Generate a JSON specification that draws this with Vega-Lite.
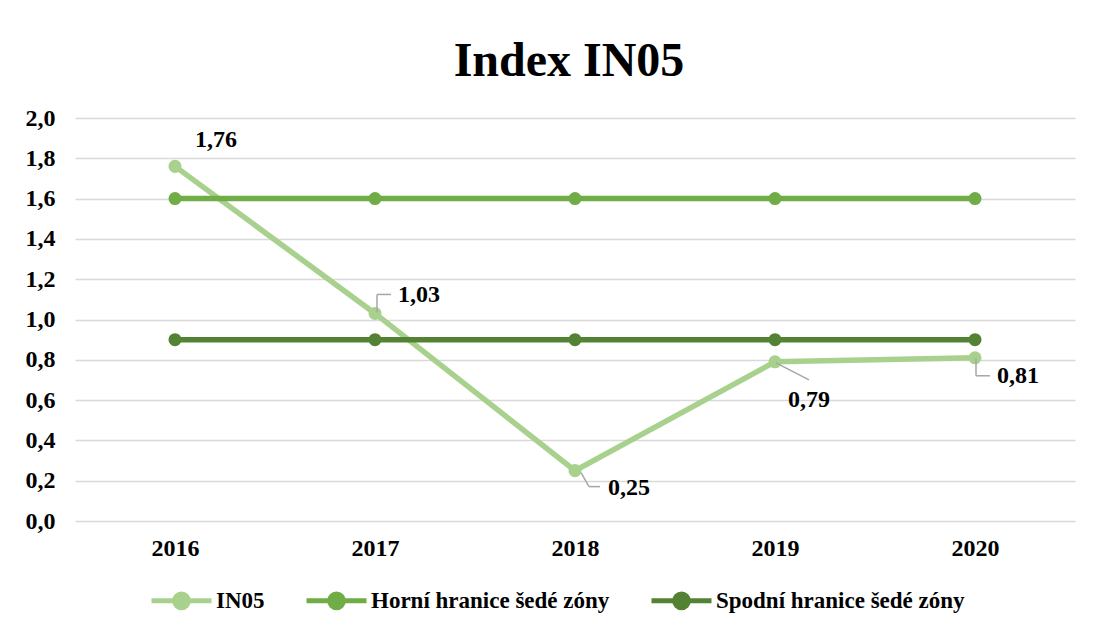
{
  "$schema": "https://vega.github.io/schema/vega-lite/v6.json",
  "width": 1000,
  "height": 403,
  "autosize": {"type": "none"},
  "padding": {"left": 75, "top": 118, "right": 19, "bottom": 109},
  "background": "white",
  "config": {
    "locale": {"number": {"decimal": ",", "thousands": " ", "grouping": [3], "currency": ["", " Kč"]}},
    "view": {"stroke": null},
    "font": "Liberation Serif"
  },
  "title": {"text": "Index IN05", "font": "Liberation Serif", "fontSize": 48, "fontWeight": "bold", "color": "black", "anchor": "middle", "offset": 20, "dx": -6},
  "data": {
    "values": [
      {"year": "2016", "series": "IN05", "value": 1.76},
      {"year": "2017", "series": "IN05", "value": 1.03},
      {"year": "2018", "series": "IN05", "value": 0.25},
      {"year": "2019", "series": "IN05", "value": 0.79},
      {"year": "2020", "series": "IN05", "value": 0.81},
      {"year": "2016", "series": "Horní hranice šedé zóny", "value": 1.6},
      {"year": "2017", "series": "Horní hranice šedé zóny", "value": 1.6},
      {"year": "2018", "series": "Horní hranice šedé zóny", "value": 1.6},
      {"year": "2019", "series": "Horní hranice šedé zóny", "value": 1.6},
      {"year": "2020", "series": "Horní hranice šedé zóny", "value": 1.6},
      {"year": "2016", "series": "Spodní hranice šedé zóny", "value": 0.9},
      {"year": "2017", "series": "Spodní hranice šedé zóny", "value": 0.9},
      {"year": "2018", "series": "Spodní hranice šedé zóny", "value": 0.9},
      {"year": "2019", "series": "Spodní hranice šedé zóny", "value": 0.9},
      {"year": "2020", "series": "Spodní hranice šedé zóny", "value": 0.9}
    ]
  },
  "encoding": {
    "x": {
      "field": "year", "type": "ordinal",
      "scale": {"type": "point", "padding": 0.5},
      "axis": {"title": null, "labelAngle": 0, "labelFont": "Liberation Serif", "labelFontSize": 24, "labelFontWeight": "bold", "labelColor": "black", "ticks": false, "domain": false, "labelPadding": 15, "grid": false}
    },
    "y": {
      "field": "value", "type": "quantitative",
      "scale": {"domain": [0, 2]},
      "axis": {"title": null, "values": [0, 0.2, 0.4, 0.6, 0.8, 1.0, 1.2, 1.4, 1.6, 1.8, 2.0], "format": ".1f", "labelFont": "Liberation Serif", "labelFontSize": 24, "labelFontWeight": "bold", "labelColor": "black", "ticks": false, "domain": false, "labelPadding": 20, "grid": true, "gridColor": "#d9d9d9", "gridWidth": 1.5}
    }
  },
  "layer": [
    {
      "mark": {"type": "line", "strokeWidth": 5.5, "point": {"filled": true, "size": 170, "opacity": 1}},
      "encoding": {
        "color": {
          "field": "series", "type": "nominal",
          "scale": {"domain": ["IN05", "Horní hranice šedé zóny", "Spodní hranice šedé zóny"], "range": ["#a9d18e", "#70ad47", "#548235"]},
          "legend": {
            "title": null, "orient": "none", "legendX": 74, "legendY": 450, "direction": "horizontal",
            "symbolType": "M-1,0L1,0M-0.23,0A0.23,0.23,0,1,1,0.23,0A0.23,0.23,0,1,1,-0.23,0Z",
            "symbolSize": 3600, "symbolStrokeWidth": 5,
            "labelFont": "Liberation Serif", "labelFontSize": 23, "labelFontWeight": "bold", "labelColor": "black",
            "labelOffset": 2, "columnPadding": 31, "labelLimit": 0,
            "encode": {"symbols": {"update": {"fill": {"scale": "color", "field": "value"}, "stroke": {"scale": "color", "field": "value"}, "opacity": {"value": 1}}}}
          }
        },
        "order": {"field": "series", "type": "nominal"}
      }
    },
    {
      "transform": [{"filter": "datum.series == 'IN05' && datum.year == '2016'"}],
      "mark": {"type": "text", "dx": 41, "dy": -26, "align": "center", "baseline": "middle", "font": "Liberation Serif", "fontSize": 24, "fontWeight": "bold", "color": "black"},
      "encoding": {"text": {"field": "value", "type": "quantitative", "format": ".2f"}}
    },
    {
      "transform": [{"filter": "datum.series == 'IN05' && datum.year == '2017'"}],
      "mark": {"type": "rule", "color": "#a6a6a6", "strokeWidth": 1.5, "xOffset": 2, "yOffset": -1, "x2Offset": 2, "y2Offset": -19},
      "encoding": {"x2": {"field": "year"}, "y2": {"field": "value"}}
    },
    {
      "transform": [{"filter": "datum.series == 'IN05' && datum.year == '2017'"}],
      "mark": {"type": "rule", "color": "#a6a6a6", "strokeWidth": 1.5, "xOffset": 2, "yOffset": -19, "x2Offset": 16, "y2Offset": -19},
      "encoding": {"x2": {"field": "year"}, "y2": {"field": "value"}}
    },
    {
      "transform": [{"filter": "datum.series == 'IN05' && datum.year == '2017'"}],
      "mark": {"type": "text", "dx": 23, "dy": -18, "align": "left", "baseline": "middle", "font": "Liberation Serif", "fontSize": 24, "fontWeight": "bold", "color": "black"},
      "encoding": {"text": {"field": "value", "type": "quantitative", "format": ".2f"}}
    },
    {
      "transform": [{"filter": "datum.series == 'IN05' && datum.year == '2018'"}],
      "mark": {"type": "rule", "color": "#a6a6a6", "strokeWidth": 1.5, "xOffset": 6, "yOffset": 2, "x2Offset": 14, "y2Offset": 16},
      "encoding": {"x2": {"field": "year"}, "y2": {"field": "value"}}
    },
    {
      "transform": [{"filter": "datum.series == 'IN05' && datum.year == '2018'"}],
      "mark": {"type": "rule", "color": "#a6a6a6", "strokeWidth": 1.5, "xOffset": 14, "yOffset": 16, "x2Offset": 25, "y2Offset": 16},
      "encoding": {"x2": {"field": "year"}, "y2": {"field": "value"}}
    },
    {
      "transform": [{"filter": "datum.series == 'IN05' && datum.year == '2018'"}],
      "mark": {"type": "text", "dx": 33, "dy": 17, "align": "left", "baseline": "middle", "font": "Liberation Serif", "fontSize": 24, "fontWeight": "bold", "color": "black"},
      "encoding": {"text": {"field": "value", "type": "quantitative", "format": ".2f"}}
    },
    {
      "transform": [{"filter": "datum.series == 'IN05' && datum.year == '2019'"}],
      "mark": {"type": "rule", "color": "#a6a6a6", "strokeWidth": 1.5, "xOffset": 1, "yOffset": 1, "x2Offset": 34, "y2Offset": 18},
      "encoding": {"x2": {"field": "year"}, "y2": {"field": "value"}}
    },
    {
      "transform": [{"filter": "datum.series == 'IN05' && datum.year == '2019'"}],
      "mark": {"type": "text", "dx": 34, "dy": 38, "align": "center", "baseline": "middle", "font": "Liberation Serif", "fontSize": 24, "fontWeight": "bold", "color": "black"},
      "encoding": {"text": {"field": "value", "type": "quantitative", "format": ".2f"}}
    },
    {
      "transform": [{"filter": "datum.series == 'IN05' && datum.year == '2020'"}],
      "mark": {"type": "rule", "color": "#a6a6a6", "strokeWidth": 1.5, "xOffset": 1, "yOffset": 1, "x2Offset": 1, "y2Offset": 18},
      "encoding": {"x2": {"field": "year"}, "y2": {"field": "value"}}
    },
    {
      "transform": [{"filter": "datum.series == 'IN05' && datum.year == '2020'"}],
      "mark": {"type": "rule", "color": "#a6a6a6", "strokeWidth": 1.5, "xOffset": 1, "yOffset": 18, "x2Offset": 15, "y2Offset": 18},
      "encoding": {"x2": {"field": "year"}, "y2": {"field": "value"}}
    },
    {
      "transform": [{"filter": "datum.series == 'IN05' && datum.year == '2020'"}],
      "mark": {"type": "text", "dx": 22, "dy": 18, "align": "left", "baseline": "middle", "font": "Liberation Serif", "fontSize": 24, "fontWeight": "bold", "color": "black"},
      "encoding": {"text": {"field": "value", "type": "quantitative", "format": ".2f"}}
    }
  ]
}
